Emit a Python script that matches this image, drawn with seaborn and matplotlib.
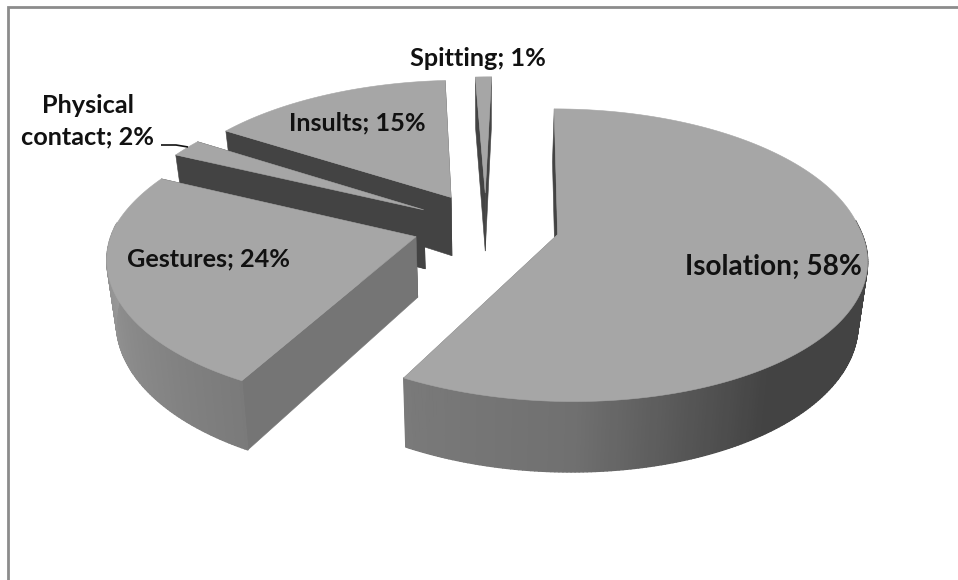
import numpy as np
import matplotlib
matplotlib.use("Agg")
import matplotlib.pyplot as plt
from matplotlib.collections import PolyCollection
from matplotlib.patches import Polygon
import seaborn as sns

# --- data ---
categories = ["Isolation", "Gestures", "Physical\ncontact", "Insults", "Spitting"]
percent = [58, 24, 2, 15, 1]

# --- projection and styling ---
CX, CY = 486.0, 226.0     # projected pie centre, px
RX, RY = 302.0, 141.0     # projected radii, px
PERSP = 0.14              # perspective strength
SKEW_BACK = 6.0           # horizontal shear behind the pie centre, px
SKEW_FRONT = 4.0          # horizontal shear in front of it, px
EXPLODE = 0.242           # explosion in radius units
DEPTH = 60.0              # extrusion, px
TAPER = 0.025             # inward lean of the walls
TOP = "#a6a6a6"
DARK = "#434343"
MID = "#757575"
FRAME = "#8c8c8c"
SHADE_ANGLE = [0, 145, 160, 180, 208.8, 240, 270, 300, 360]
SHADE_GREY = [0x43, 0x43, 0x55, 0x70, 0x7a, 0x8a, 0x98, 0xa0, 0xa6]
LABEL_POS = [(773, 267), (209, 259), (88, 121), (357, 123), (478, 58)]
LABEL_SIZE = [20.2, 18.2, 18.2, 18.2, 18.2]
DRAW_ORDER = [4, 3, 2, 1, 0]

sns.set_theme(style="white")
plt.rcParams["font.family"] = ["Lato", "DejaVu Sans"]

fig, ax = plt.subplots(figsize=(9.58, 5.8), dpi=100)
fig.subplots_adjust(0, 0, 1, 1)
ax.set_xlim(0, 958)
ax.set_ylim(580, 0)
ax.axis("off")


def project(theta_deg, mid_deg, z=0.0, radius=1.0):
    t, m = np.radians(theta_deg), np.radians(mid_deg)
    X = radius * np.sin(t) + EXPLODE * np.sin(m)
    Y = radius * np.cos(t) + EXPLODE * np.cos(m)
    w = 1 + PERSP * Y
    x = RX * X / w + np.where(Y > 0, SKEW_BACK * Y, -SKEW_FRONT * Y)
    taper = 1 - TAPER * z / DEPTH
    return np.column_stack([CX + x * taper, CY + (-RY * Y + z) / w])


edges = np.concatenate([[0], np.cumsum(percent)]) * 3.6


def grey(theta):
    v = np.interp(theta, SHADE_ANGLE, SHADE_GREY) / 255
    return (v, v, v)


def draw_slice(i):
    a0, a1 = edges[i], edges[i + 1]
    mid = (a0 + a1) / 2
    # cut faces, the one turned away first
    for ang in sorted([a0, a1], key=lambda a: -np.cos(np.radians(a))):
        p0 = project(np.array([ang]), mid, radius=0.0)
        p1 = project(np.array([ang]), mid)
        q1 = project(np.array([ang]), mid, z=DEPTH)
        q0 = project(np.array([ang]), mid, z=DEPTH, radius=0.0)
        col = MID if 100 < ang < 250 else DARK
        ax.add_patch(Polygon(np.vstack([p0, p1, q1, q0]), closed=True, fc=col, ec=col, lw=0.4))
    th = np.linspace(a0, a1, max(4, int((a1 - a0) * 1.5)))
    top, bot = project(th, mid), project(th, mid, z=DEPTH)
    # outer wall: only the part turned towards the viewer
    quads, cols = [], []
    for j in range(len(th) - 1):
        centre = (th[j] + th[j + 1]) / 2
        if np.cos(np.radians(centre)) < 0.1:
            quads.append(np.vstack([top[j], top[j + 1], bot[j + 1], bot[j]]))
            cols.append(grey(centre))
    if quads:
        ax.add_collection(PolyCollection(quads, facecolors=cols, edgecolors=cols, linewidths=1.0))
    # top face
    apex = project(np.array([a0]), mid, radius=0.0)
    ax.add_patch(Polygon(np.vstack([apex, top]), closed=True, fc=TOP, ec=TOP, lw=0.4))


for i in DRAW_ORDER:
    draw_slice(i)

for name, pct, (x, y), size in zip(categories, percent, LABEL_POS, LABEL_SIZE):
    ax.text(x, y, f"{name}; {pct}%", ha="center", va="center", fontsize=size,
            fontweight="bold", color="#111111", linespacing=1.45)

# leader line of the small slice
ax.plot([161, 176, 188], [145, 145, 147], color="#111111", lw=1.2, solid_capstyle="butt")

# chart-area frame
ax.plot([8, 8, 958], [580, 6.5, 6.5], color=FRAME, lw=2, solid_joinstyle="miter")

fig.savefig("out.png", dpi=100)
